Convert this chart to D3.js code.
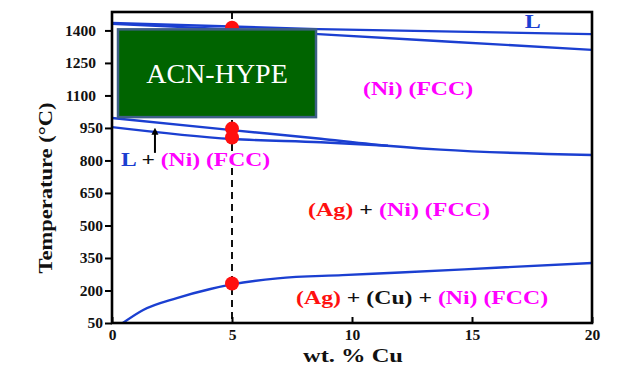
<!DOCTYPE html>
<html>
<head>
<meta charset="utf-8">
<script src="https://cdn.jsdelivr.net/npm/d3@7"></script>
<style>
  body { margin: 0; background: #fff; }
  svg { display: block; }
</style>
</head>
<body>
<div id="chart"></div>
<script>
// phase boundaries, [wt.% Cu, temperature degC]
const liquidusTop = [[0, 1434], [8.6, 1406], [20, 1383]];
const solidusTop = [[0, 1430], [5, 1405], [8.6, 1383], [14.1, 1348], [20, 1310]];
const liquidusMid = [[0, 996], [5, 940], [8.7, 900], [10.8, 875], [13.7, 850], [20, 825]];
const solidusMid = [[0, 954], [5, 899], [8.7, 884], [11.5, 868]];
const solvus = [[0.45, 50], [1.3, 110], [2.7, 165], [4.1, 207], [5, 228], [6.9, 256],
                [9.6, 271], [12, 283], [16, 305], [20, 327]];

// marked points on the 5 wt.% section
const dotX = [5, 5, 5, 5];
const dotT = [1412, 947, 906, 232];
const sectionX = 5;

const xTicks = [0, 5, 10, 15, 20];
const yTicks = [50, 200, 350, 500, 650, 800, 950, 1100, 1250, 1400];

const blue = "#1b3fd1", magenta = "#ff00ff", red = "#ff1010";
const font = "'Liberation Serif', 'Times New Roman', serif";

const width = 634, height = 365;
const x = d3.scaleLinear().domain([0, 20]).range([112, 592]);
const y = d3.scaleLinear().domain([50, 1485]).range([323, 12]);

const svg = d3.select("#chart").append("svg")
    .attr("width", width)
    .attr("height", height);

// boundary lines
const line = d3.line()
    .x(d => x(d[0]))
    .y(d => y(d[1]))
    .curve(d3.curveMonotoneX);

[liquidusTop, solidusTop, liquidusMid, solidusMid, solvus].forEach(function (pts) {
    svg.append("path")
        .datum(pts)
        .attr("d", line)
        .attr("fill", "none")
        .attr("stroke", blue)
        .attr("stroke-width", 2.4);
});

// dashed section line
svg.append("line")
    .attr("x1", x(sectionX)).attr("x2", x(sectionX))
    .attr("y1", y.range()[1]).attr("y2", y.range()[0])
    .attr("stroke", "#111")
    .attr("stroke-width", 2)
    .attr("stroke-dasharray", "7,5");

svg.selectAll("circle.pt")
    .data(dotX)
    .enter()
    .append("circle")
    .attr("class", "pt")
    .attr("cx", d => x(d))
    .attr("cy", (d, i) => y(dotT[i]))
    .attr("r", 7)
    .attr("fill", red);

// frame + axes
const yAxis = svg.append("g")
    .attr("transform", `translate(${x(0)},0)`)
    .call(d3.axisLeft(y).tickValues(yTicks).tickFormat(d3.format("d"))
        .tickSize(7).tickPadding(2).tickSizeOuter(0));
yAxis.select(".domain").remove();
yAxis.selectAll("line").attr("stroke", "#000").attr("stroke-width", 2);
yAxis.selectAll("text")
    .attr("dx", d => d >= 1000 ? -7 : 0)
    .style("font-family", font)
    .style("font-weight", "bold")
    .style("font-size", "15.5px")
    .attr("fill", "#111");

const xAxis = svg.append("g")
    .attr("transform", `translate(0,${y(50)})`)
    .call(d3.axisBottom(x).tickValues(xTicks).tickFormat(d3.format("d"))
        .tickSize(-6).tickPadding(6).tickSizeOuter(0));
xAxis.select(".domain").remove();
xAxis.selectAll("line").attr("stroke", "#000").attr("stroke-width", 2);
xAxis.selectAll("text")
    .style("font-family", font)
    .style("font-weight", "bold")
    .style("font-size", "15.5px")
    .attr("fill", "#111");

svg.append("rect")
    .attr("x", x(0)).attr("y", y(1485))
    .attr("width", x(20) - x(0))
    .attr("height", y(50) - y(1485))
    .attr("fill", "none")
    .attr("stroke", "#000")
    .attr("stroke-width", 2.6);

// axis titles
svg.append("text")
    .attr("x", x(10) + 1).attr("y", 362)
    .attr("text-anchor", "middle")
    .attr("textLength", 100)
    .attr("lengthAdjust", "spacingAndGlyphs")
    .style("font-family", font)
    .style("font-weight", "bold")
    .style("font-size", "19px")
    .attr("fill", "#111")
    .text("wt. % Cu");

svg.append("text")
    .attr("transform", "translate(52,188) rotate(-90)")
    .attr("text-anchor", "middle")
    .attr("textLength", 171)
    .attr("lengthAdjust", "spacingAndGlyphs")
    .style("font-family", font)
    .style("font-weight", "bold")
    .style("font-size", "19px")
    .attr("fill", "#111")
    .text("Temperature (\u00B0C)");

// phase labels: position in data units, stretched width in px
function phaseLabel(wt, t, len, parts, size) {
    const t0 = svg.append("text")
        .attr("x", x(wt)).attr("y", y(t))
        .attr("textLength", len)
        .attr("lengthAdjust", "spacingAndGlyphs")
        .style("font-family", font)
        .style("font-weight", "bold")
        .style("font-size", (size || 19) + "px");
    parts.forEach(function (p) {
        t0.append("tspan").attr("fill", p[1]).text(p[0]);
    });
}

phaseLabel(17.2, 1411, 16, [["L", blue]], 18);
phaseLabel(10.46, 1102, 110, [["(Ni) (FCC)", magenta]]);
phaseLabel(0.38, 774, 149, [["L", blue], [" + ", "#111"], ["(Ni) (FCC)", magenta]]);
phaseLabel(8.17, 544, 182, [["(Ag)", red], [" + ", "#111"], ["(Ni) (FCC)", magenta]]);
phaseLabel(7.67, 138, 252, [["(Ag)", red], [" + (Cu) + ", "#111"], ["(Ni) (FCC)", magenta]]);

// arrow pointing at the liquidus
svg.append("defs").append("marker")
    .attr("id", "head")
    .attr("viewBox", "0 0 10 10")
    .attr("refX", 5).attr("refY", 5)
    .attr("markerWidth", 3.5).attr("markerHeight", 4.5)
    .attr("orient", "auto")
    .append("path")
    .attr("d", "M0,0L10,5L0,10Z")
    .attr("fill", "#000");

svg.append("line")
    .attr("x1", x(1.79)).attr("x2", x(1.79))
    .attr("y1", y(835)).attr("y2", y(935))
    .attr("stroke", "#000")
    .attr("stroke-width", 2)
    .attr("marker-end", "url(#head)");

// ACN-HYPE overlay box
const box = svg.append("g");
box.append("rect")
    .attr("x", x(0.25)).attr("y", y(1405))
    .attr("width", x(8.5) - x(0.25))
    .attr("height", y(1000) - y(1405))
    .attr("fill", "#006400")
    .attr("stroke", "#3e5f87")
    .attr("stroke-width", 2.5);
box.append("text")
    .attr("x", (x(0.25) + x(8.5)) / 2)
    .attr("y", (y(1405) + y(1000)) / 2 + 10)
    .attr("text-anchor", "middle")
    .style("font-family", font)
    .style("font-size", "28px")
    .attr("fill", "#fff")
    .text("ACN-HYPE");
</script>
</body>
</html>
